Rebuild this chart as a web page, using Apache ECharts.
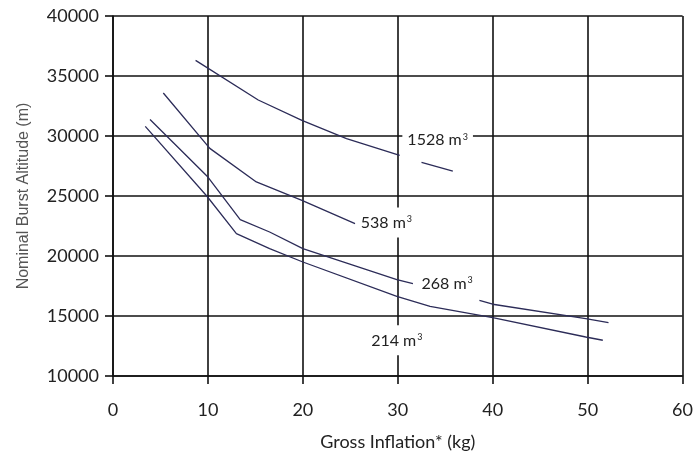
<!DOCTYPE html>
<html>
<head>
<meta charset="utf-8">
<script src="https://cdn.jsdelivr.net/npm/echarts@6/dist/echarts.min.js"></script>
<style>
html,body{margin:0;padding:0;background:#fff;}
#c{width:696px;height:457px;}
</style>
</head>
<body>
<div id="c"></div>
<script>
// Data (x: gross inflation kg, y: nominal burst altitude m)
var xTicks = [0, 10, 20, 30, 40, 50, 60];
var yTicks = [10000, 15000, 20000, 25000, 30000, 35000, 40000];

var s1528a = [[8.7, 36300], [15.3, 33000], [19.9, 31300], [24.6, 29780], [30.2, 28390]];
var s1528b = [[32.5, 27810], [35.8, 27080]];
var s538 = [[5.3, 33580], [10.2, 28970], [15.1, 26170], [19.9, 24640], [25.5, 22700]];
var s268a = [[3.9, 31370], [10.0, 26580], [13.4, 23030], [16.5, 22000], [20.0, 20620], [29.9, 18030], [31.6, 17700]];
var s268b = [[38.6, 16300], [40.0, 15980], [49.8, 14780], [52.2, 14450]];
var s214 = [[3.4, 30800], [9.9, 24980], [13.0, 21870], [16.5, 20620], [20.0, 19500], [29.9, 16640], [33.4, 15810], [40.0, 14870], [49.8, 13250], [51.6, 12980]];

var labels = [
  {name: '1528', coord: [34.2, 29640]},
  {name: '538', coord: [28.8, 22800]},
  {name: '268', coord: [35.2, 17720]},
  {name: '214', coord: [29.9, 12970]}
];

var lineColor = '#2c2c58';
var gridColor = '#111';
var font = 'Lato, "Open Sans", sans-serif';

function mkLine(data) {
  return {
    type: 'line',
    data: data,
    symbol: 'none',
    smooth: false,
    lineStyle: {color: lineColor, width: 1.3},
    z: 3,
    animation: false
  };
}

var markData = labels.map(function (l) {
  return {
    coord: l.coord,
    symbol: 'rect',
    symbolSize: 0,
    label: {
      show: true,
      position: 'inside',
      formatter: '{a|' + l.name + ' m}{s|3}',
      backgroundColor: '#fff',
      padding: [7, 5, 7, 5],
      rich: {
        a: {fontFamily: font, fontSize: 16, color: '#222'},
        s: {fontFamily: font, fontSize: 9, color: '#222', verticalAlign: 'top', lineHeight: 12, padding: [0, 0, 9, 1]}
      }
    }
  };
});

var chart = echarts.init(document.getElementById('c'), null, {renderer: 'canvas'});
chart.setOption({
  animation: false,
  backgroundColor: '#fff',
  grid: {left: 113, right: 13, top: 16, bottom: 81, containLabel: false},
  xAxis: {
    type: 'value',
    min: xTicks[0], max: xTicks[xTicks.length - 1], interval: 10,
    name: 'Gross Inflation* (kg)',
    nameLocation: 'middle',
    nameGap: 57,
    nameTextStyle: {fontFamily: font, fontSize: 18, color: '#222'},
    axisLine: {show: true, lineStyle: {color: gridColor, width: 1.6}},
    axisTick: {show: true, length: 8, inside: false, lineStyle: {color: gridColor, width: 1.6}},
    axisLabel: {margin: 25, fontFamily: font, fontSize: 18, color: '#222', formatter: function (v) { return String(v); }},
    splitLine: {show: true, lineStyle: {color: gridColor, width: 1.6}}
  },
  yAxis: {
    type: 'value',
    min: yTicks[0], max: yTicks[yTicks.length - 1], interval: 5000,
    name: 'Nominal Burst Altitude (m)',
    nameLocation: 'middle',
    nameGap: 81,
    nameTextStyle: {fontFamily: '"Liberation Sans", Arial, sans-serif', fontSize: 16, color: '#555'},
    axisLine: {show: true, lineStyle: {color: gridColor, width: 1.6}},
    axisTick: {show: true, length: 8, inside: false, lineStyle: {color: gridColor, width: 1.6}},
    axisLabel: {margin: 14, fontFamily: font, fontSize: 18, color: '#222', formatter: function (v) { return String(v); }},
    splitLine: {show: true, lineStyle: {color: gridColor, width: 1.6}}
  },
  series: [
    mkLine(s1528a),
    mkLine(s1528b),
    mkLine(s538),
    mkLine(s268a),
    mkLine(s268b),
    mkLine(s214),
    {
      type: 'scatter',
      data: [],
      z: 4,
      markPoint: {data: markData, animation: false, z: 4}
    }
  ]
});
</script>
</body>
</html>
